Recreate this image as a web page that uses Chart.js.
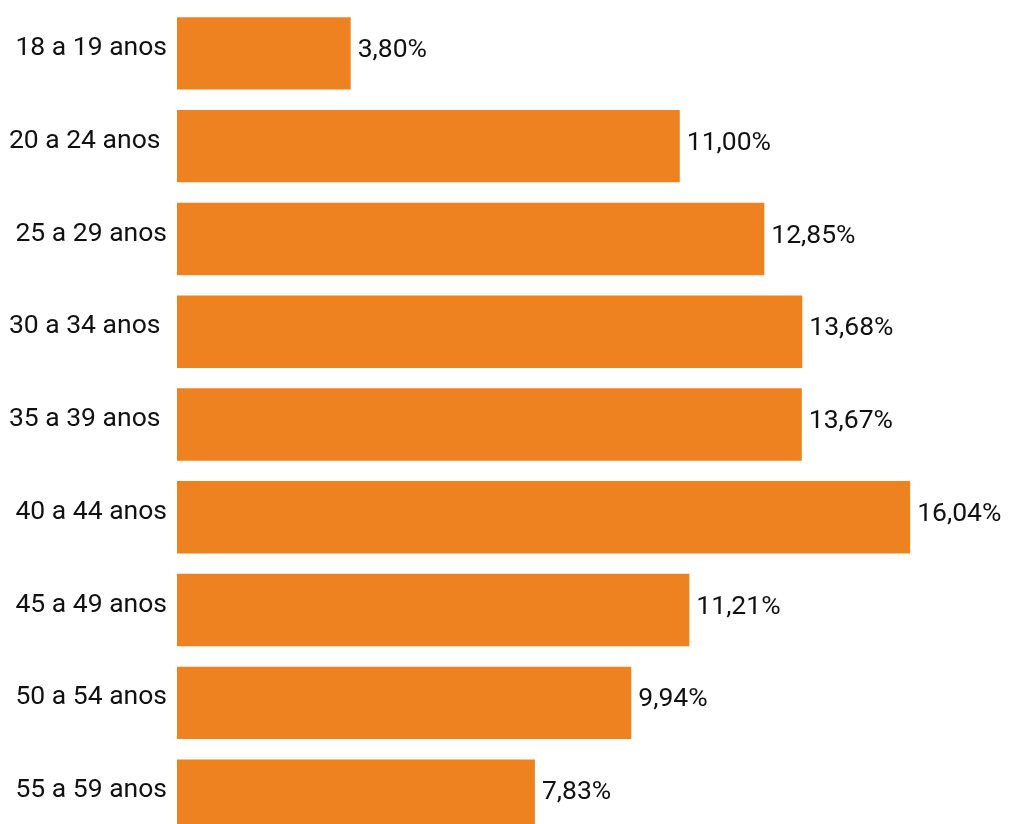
<!DOCTYPE html>
<html>
<head>
<meta charset="utf-8">
<script src="https://cdn.jsdelivr.net/npm/chart.js@4"></script>
<style>
  html, body { margin: 0; padding: 0; background: #fff; overflow: hidden; }
  #wrap { width: 1034px; height: 842px; position: relative; }
</style>
</head>
<body>
<div id="wrap"><canvas id="myChart"></canvas></div>
<script>
// faixas etárias (alguns rótulos vêm com espaço no fim, como no original)
const categories = [
  '18 a 19 anos',
  '20 a 24 anos ',
  '25 a 29 anos',
  '30 a 34 anos ',
  '35 a 39 anos ',
  '40 a 44 anos',
  '45 a 49 anos',
  '50 a 54 anos',
  '55 a 59 anos',
];
const percentages = [3.80, 11.00, 12.85, 13.68, 13.67, 16.04, 11.21, 9.94, 7.83];

const barColor = '#ef8220';
const textColor = '#111111';
const fontSize = 26.5;

const fmt = v => v.toFixed(2).replace('.', ',') + '%';

const valueLabels = {
  id: 'valueLabels',
  afterDatasetsDraw(chart) {
    const c = chart.ctx;
    const meta = chart.getDatasetMeta(0);
    c.save();
    c.font = fontSize + 'px Roboto';
    c.fillStyle = textColor;
    c.textAlign = 'left';
    c.textBaseline = 'middle';
    meta.data.forEach((bar, i) => {
      c.fillText(fmt(percentages[i]), bar.x + 7, bar.y - 3);
    });
    c.restore();
  },
};

const ctx = document.getElementById('myChart');
new Chart(ctx, {
  type: 'bar',
  data: {
    labels: categories,
    datasets: [{
      data: percentages,
      backgroundColor: barColor,
      borderWidth: 0,
      barPercentage: 0.78,
      categoryPercentage: 1,
    }],
  },
  options: {
    indexAxis: 'y',
    responsive: true,
    maintainAspectRatio: false,
    animation: false,
    layout: { padding: { top: 7, right: 0, bottom: 0, left: 0 } },
    plugins: {
      legend: { display: false },
      tooltip: { enabled: false },
    },
    scales: {
      x: {
        display: false,
        min: 0,
        max: 18.75,
      },
      y: {
        grid: { display: false, drawTicks: false },
        border: { display: false },
        afterFit: axis => {
          axis.width = 177;
          axis.paddingTop = 0;
          axis.paddingBottom = 0;
        },
        ticks: {
          padding: 10,
          labelOffset: -5,
          color: textColor,
          font: { family: 'Roboto', size: fontSize },
        },
      },
    },
  },
  plugins: [valueLabels],
});
</script>
</body>
</html>
